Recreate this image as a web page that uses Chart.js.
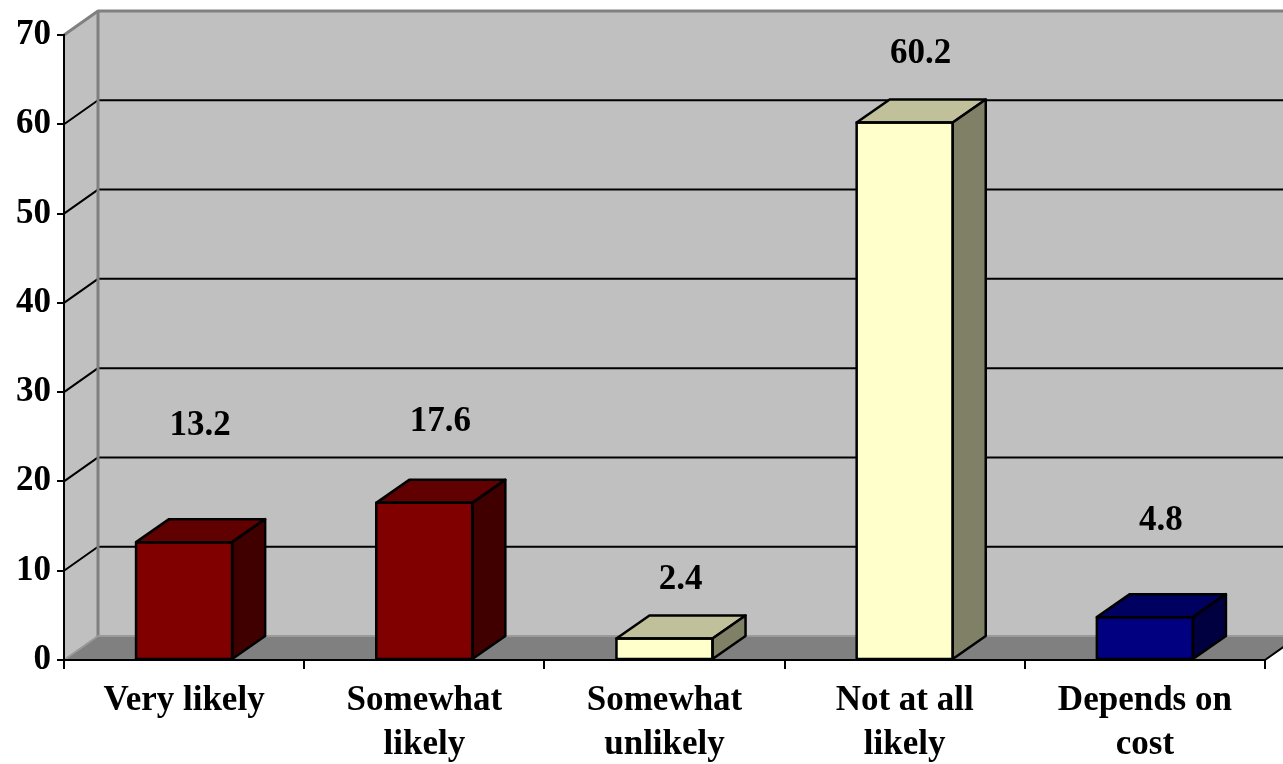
<!DOCTYPE html>
<html>
<head>
<meta charset="utf-8">
<script src="https://cdn.jsdelivr.net/npm/chart.js@4/dist/chart.umd.min.js"></script>
<style>
  html, body { margin: 0; padding: 0; background: #ffffff; }
  canvas { display: block; }
</style>
</head>
<body>
<canvas id="chart" width="1283" height="764"></canvas>
<script>
// Survey answers (percent of respondents)
const categories = [
  ["Very likely"],
  ["Somewhat", "likely"],
  ["Somewhat", "unlikely"],
  ["Not at all", "likely"],
  ["Depends on", "cost"]
];
const percentages = [13.2, 17.6, 2.4, 60.2, 4.8];

// Value axis range
const axisMin = 0;
const axisMax = 70;
const axisStep = 10;

// Face colours of each box: front, top, right side
const frontColors = ["#800000", "#800000", "#FFFFCC", "#FFFFCC", "#000080"];
const topColors   = ["#600000", "#600000", "#C0C09A", "#C0C09A", "#000060"];
const sideColors  = ["#400000", "#400000", "#808066", "#808066", "#000040"];

const FONT = "'Liberation Serif', 'Times New Roman', serif";
const FONT_SIZE = 35;
const DEPTH_X = 34, DEPTH_Y = 24;   // wall depth
const BAR_DX = 33, BAR_DY = 23;     // box depth

function poly(ctx, pts, fill, stroke, lw) {
  ctx.beginPath();
  ctx.moveTo(pts[0][0], pts[0][1]);
  for (let i = 1; i < pts.length; i++) ctx.lineTo(pts[i][0], pts[i][1]);
  ctx.closePath();
  if (fill) { ctx.fillStyle = fill; ctx.fill(); }
  if (stroke) { ctx.strokeStyle = stroke; ctx.lineWidth = lw || 2; ctx.stroke(); }
}
function line(ctx, pts, color, lw) {
  ctx.beginPath();
  ctx.moveTo(pts[0][0], pts[0][1]);
  for (let i = 1; i < pts.length; i++) ctx.lineTo(pts[i][0], pts[i][1]);
  ctx.strokeStyle = color; ctx.lineWidth = lw || 2; ctx.stroke();
}

// Back wall, side wall, floor and gridlines behind the boxes
const wallsPlugin = {
  id: "walls",
  beforeDraw(chart) {
    const { ctx, chartArea: a, scales: { y } } = chart;
    const W = chart.width;
    const y0 = y.getPixelForValue(axisMin);
    const yT = y.getPixelForValue(axisMax);
    ctx.save();
    ctx.lineJoin = "round";
    ctx.fillStyle = "#ffffff";
    ctx.fillRect(0, 0, W, chart.height);

    // back wall
    ctx.fillStyle = "#C0C0C0";
    ctx.fillRect(a.left + DEPTH_X, yT - DEPTH_Y, W, y0 - yT);
    // side wall
    poly(ctx, [[a.left, yT], [a.left + DEPTH_X, yT - DEPTH_Y], [a.left + DEPTH_X, y0 - DEPTH_Y], [a.left, y0]], "#C0C0C0");
    // floor
    poly(ctx, [[a.left, y0], [a.left + DEPTH_X, y0 - DEPTH_Y], [W + 50, y0 - DEPTH_Y], [W + 50, y0]], "#808080");
    poly(ctx, [[a.right, y0], [a.right + DEPTH_X, y0 - DEPTH_Y], [W + 60, y0 - DEPTH_Y], [W + 60, y0 + 2]], "#ffffff");

    // gridlines on side and back walls
    y.ticks.forEach(t => {
      if (t.value <= axisMin || t.value >= axisMax) return;
      const yy = y.getPixelForValue(t.value);
      line(ctx, [[a.left, yy], [a.left + DEPTH_X, yy - DEPTH_Y], [W + 10, yy - DEPTH_Y]], "#000000", 2);
    });

    // wall edges
    line(ctx, [[a.left, yT], [a.left + DEPTH_X, yT - DEPTH_Y], [W + 10, yT - DEPTH_Y]], "#808080", 3);
    line(ctx, [[a.left + DEPTH_X, yT - DEPTH_Y], [a.left + DEPTH_X, y0 - DEPTH_Y]], "#808080", 3);
    line(ctx, [[a.left + DEPTH_X, y0 - DEPTH_Y], [a.right + DEPTH_X, y0 - DEPTH_Y]], "#9A9A9A", 2);
    line(ctx, [[a.left, y0], [a.left + DEPTH_X, y0 - DEPTH_Y]], "#9A9A9A", 2);
    // floor front-right edge
    line(ctx, [[a.right, y0], [a.right + DEPTH_X, y0 - DEPTH_Y]], "#000000", 2);
    ctx.restore();
  }
};

// Top and side faces of each box, plus the value above it
const boxesPlugin = {
  id: "boxes",
  afterDatasetsDraw(chart, args, opts) {
    const { ctx } = chart;
    const meta = chart.getDatasetMeta(0);
    ctx.save();
    ctx.lineJoin = "round";
    meta.data.forEach((bar, i) => {
      const { x, y, base, width } = bar.getProps(["x", "y", "base", "width"], true);
      const x0 = x - width / 2, x1 = x + width / 2;
      poly(ctx, [[x0, y], [x0 + BAR_DX, y - BAR_DY], [x1 + BAR_DX, y - BAR_DY], [x1, y]], topColors[i], "#000000", 2.5);
      poly(ctx, [[x1, y], [x1 + BAR_DX, y - BAR_DY], [x1 + BAR_DX, base - BAR_DY], [x1, base]], sideColors[i], "#000000", 2.5);
      ctx.strokeStyle = "#000000";
      ctx.lineWidth = 2.5;
      ctx.strokeRect(x0, y, width, base - y);

      ctx.fillStyle = "#000000";
      ctx.font = "bold " + FONT_SIZE + "px " + FONT;
      ctx.textAlign = "center";
      ctx.textBaseline = "middle";
      ctx.fillText(percentages[i].toFixed(1), x + opts.shiftX, y - opts.lift[i]);
    });
    ctx.restore();
  }
};

new Chart(document.getElementById("chart"), {
  type: "bar",
  data: {
    labels: categories,
    datasets: [{
      data: percentages,
      backgroundColor: frontColors,
      borderColor: "#000000",
      borderWidth: 0,
      categoryPercentage: 1.0,
      barPercentage: 0.4
    }]
  },
  options: {
    responsive: false,
    devicePixelRatio: 1,
    animation: false,
    layout: { padding: { top: 35, right: 18, left: 0, bottom: 0 } },
    plugins: {
      legend: { display: false },
      tooltip: { enabled: false },
      boxes: { shiftX: 16, lift: [116, 81, 59, 69, 96] }
    },
    scales: {
      x: {
        offset: true,
        grid: { offset: true, drawOnChartArea: false, drawTicks: true, tickLength: 9, color: "#000000", lineWidth: 2 },
        border: { display: true, color: "#000000", width: 2 },
        ticks: {
          color: "#000000",
          padding: 10,
          maxRotation: 0,
          autoSkip: false,
          font: { family: FONT, size: FONT_SIZE, weight: "bold", lineHeight: 1.25 }
        },
        afterFit(scale) { scale.height = 104; }
      },
      y: {
        min: axisMin,
        max: axisMax,
        grid: { drawOnChartArea: false, drawTicks: true, tickLength: 7, color: "#000000", lineWidth: 2 },
        border: { display: true, color: "#000000", width: 2 },
        ticks: {
          stepSize: axisStep,
          color: "#000000",
          padding: 6,
          font: { family: FONT, size: FONT_SIZE, weight: "bold" }
        },
        afterFit(scale) { scale.width = 64; }
      }
    }
  },
  plugins: [wallsPlugin, boxesPlugin]
});
</script>
</body>
</html>
